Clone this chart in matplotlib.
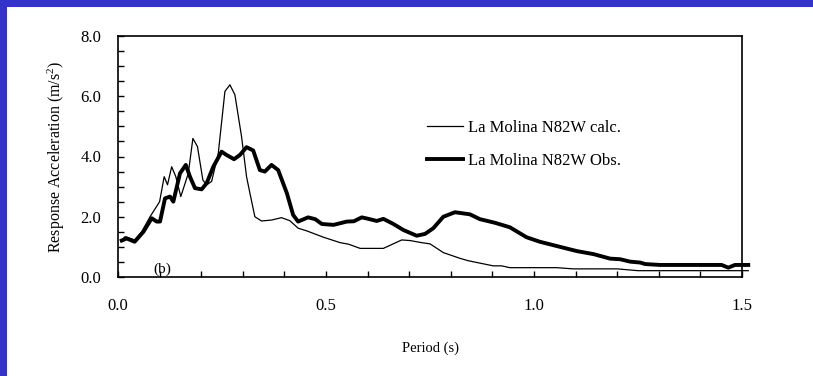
import matplotlib
matplotlib.use('Agg')
import matplotlib.pyplot as plt
from matplotlib.patches import Rectangle
from matplotlib.ticker import MultipleLocator, FormatStrFormatter

plt.rcParams['font.family'] = ['Liberation Serif', 'DejaVu Serif']
plt.rcParams['mathtext.fontset'] = 'custom'
plt.rcParams['mathtext.rm'] = 'Liberation Serif'
plt.rcParams['mathtext.it'] = 'Liberation Serif:italic'

# La Molina N82W calc. (thin line)
calc_t = [0.009, 0.017, 0.04, 0.057, 0.077, 0.10, 0.111, 0.119, 0.129, 0.139,
          0.151, 0.169, 0.18, 0.191, 0.204, 0.213, 0.225, 0.241, 0.257, 0.269,
          0.281, 0.297, 0.309, 0.317, 0.329, 0.345, 0.369, 0.393, 0.413, 0.433,
          0.454, 0.494, 0.534, 0.554, 0.582, 0.638, 0.682, 0.702, 0.730, 0.75,
          0.782, 0.822, 0.842, 0.902, 0.922, 0.942, 1.054, 1.094, 1.2, 1.25,
          1.515]
calc_a = [1.23, 1.34, 1.23, 1.5, 2.0, 2.5, 3.33, 3.06, 3.66, 3.33,
          2.67, 3.44, 4.6, 4.33, 3.22, 3.06, 3.17, 4.1, 6.16, 6.38,
          6.05, 4.66, 3.33, 2.79, 2.0, 1.86, 1.89, 1.97, 1.87, 1.62,
          1.53, 1.32, 1.14, 1.09, 0.95, 0.95, 1.23, 1.21, 1.14, 1.1,
          0.81, 0.62, 0.54, 0.37, 0.37, 0.31, 0.31, 0.27, 0.27, 0.21,
          0.21]

# La Molina N82W Obs. (thick line)
obs_t = [0.009, 0.021, 0.04, 0.061, 0.081, 0.093, 0.101, 0.113, 0.125, 0.133,
         0.149, 0.163, 0.173, 0.185, 0.201, 0.213, 0.229, 0.249, 0.261, 0.279,
         0.293, 0.309, 0.325, 0.341, 0.353, 0.369, 0.385, 0.406, 0.421, 0.433,
         0.457, 0.474, 0.49, 0.518, 0.55, 0.567, 0.586, 0.602, 0.622, 0.638,
         0.662, 0.686, 0.718, 0.738, 0.758, 0.782, 0.81, 0.846, 0.87, 0.906,
         0.942, 0.982, 1.014, 1.054, 1.103, 1.143, 1.183, 1.207, 1.231, 1.255,
         1.267, 1.303, 1.451, 1.467, 1.483, 1.515]
obs_a = [1.21, 1.28, 1.17, 1.5, 1.95, 1.84, 1.84, 2.61, 2.67, 2.5,
         3.44, 3.72, 3.33, 2.95, 2.91, 3.11, 3.66, 4.16, 4.05, 3.91,
         4.05, 4.31, 4.2, 3.55, 3.5, 3.72, 3.55, 2.78, 2.06, 1.84,
         1.98, 1.92, 1.76, 1.73, 1.84, 1.85, 1.98, 1.93, 1.86, 1.93,
         1.76, 1.56, 1.37, 1.43, 1.62, 2.0, 2.15, 2.08, 1.92, 1.8,
         1.65, 1.32, 1.17, 1.03, 0.86, 0.76, 0.61, 0.59, 0.51, 0.48,
         0.43, 0.4, 0.4, 0.31, 0.4, 0.4]

fig = plt.figure(figsize=(8.13, 3.76), dpi=100)
fig.patch.set_facecolor('#3333cc')
fig.patches.append(Rectangle((7 / 813, 0), 1, 1 - 7 / 376, transform=fig.transFigure,
                             facecolor='white', edgecolor='none', zorder=-1))

ax = fig.add_axes([118 / 813, 99 / 376, 624 / 813, 241 / 376])
ax.plot(calc_t, calc_a, color='black', lw=0.9, clip_on=False, label='La Molina N82W calc.')
ax.plot(obs_t, obs_a, color='black', lw=2.8, clip_on=False, label='La Molina N82W Obs.')

ax.set_xlim(0, 1.5)
ax.set_ylim(0, 8)
ax.xaxis.set_major_locator(MultipleLocator(0.5))
ax.xaxis.set_minor_locator(MultipleLocator(0.1))
ax.yaxis.set_major_locator(MultipleLocator(2))
ax.yaxis.set_minor_locator(MultipleLocator(0.5))
ax.xaxis.set_major_formatter(FormatStrFormatter('%.1f'))
ax.yaxis.set_major_formatter(FormatStrFormatter('%.1f'))
ax.tick_params(axis='both', which='both', direction='in', width=1.0, length=4, labelsize=12)
ax.tick_params(axis='x', which='major', pad=15)
ax.tick_params(axis='y', which='major', pad=12)
for s in ax.spines.values():
    s.set_linewidth(1.2)

ax.set_xlabel('Period (s)', fontsize=10.5, labelpad=20)
ax.set_ylabel('Response Acceleration (m/s$^{2}$)', fontsize=11.5, labelpad=10)

ax.text(0.106, 0.02, '(b)', ha='center', va='bottom', fontsize=11)

ax.legend(loc='upper left', bbox_to_anchor=(0.495, 0.652), frameon=False,
          fontsize=12, handlelength=2.15, handletextpad=0.3, labelspacing=1.0,
          borderpad=0, borderaxespad=0)

fig.savefig('out.png', dpi=100, facecolor=fig.get_facecolor())
